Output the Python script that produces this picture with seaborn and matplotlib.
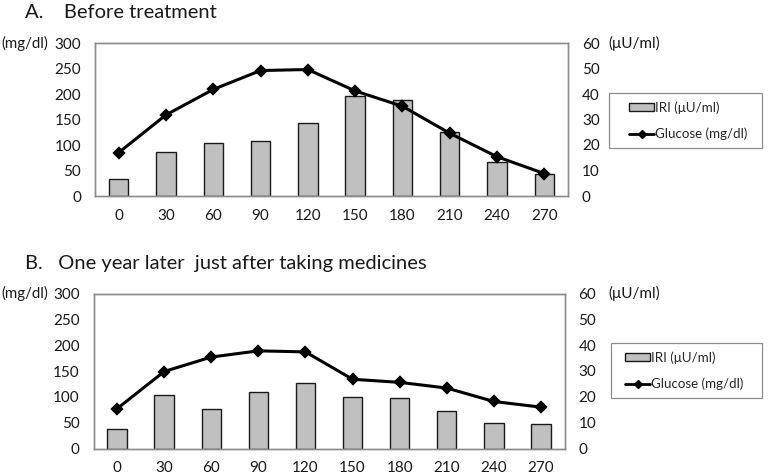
import numpy as np
import pandas as pd
import matplotlib
matplotlib.use("Agg")
import matplotlib.pyplot as plt
from matplotlib.patches import Patch, Rectangle
from matplotlib.lines import Line2D
import seaborn as sns

sns.set_style("white")
plt.rcParams['font.family'] = ['Lato', 'DejaVu Sans']

times = [0, 30, 60, 90, 120, 150, 180, 210, 240, 270]
iri_before = [6.5, 17.4, 20.7, 21.7, 28.8, 39.3, 37.6, 25.2, 13.4, 8.5]
glucose_before = [85, 159, 209, 246, 248, 206, 176, 123, 77, 44]
iri_after = [7.4, 20.9, 15.2, 21.7, 25.5, 20.0, 19.7, 14.4, 9.7, 9.3]
glucose_after = [77, 149, 177, 189, 187, 134, 128, 117, 91, 80]

titles = ["A.    Before treatment", "B.   One year later  just after taking medicines"]
left_ticks = [0, 50, 100, 150, 200, 250, 300]
right_ticks = [0, 10, 20, 30, 40, 50, 60]
iri_label = "IRI (\u03bcU/ml)"
glu_label = "Glucose (mg/dl)"

W, H = 768, 474
fig = plt.figure(figsize=(W / 100, H / 100), dpi=100)

panels = [
    dict(rect=(95, 43, 568, 196), iri=iri_before, glu=glucose_before, title=titles[0],
         title_y=13, box=(609, 93, 762, 148), leg_x=629, leg_y=120.5),
    dict(rect=(93.5, 293.5, 564.5, 448.5), iri=iri_after, glu=glucose_after, title=titles[1],
         title_y=263, box=(611, 343, 762, 398), leg_x=625, leg_y=370.8),
]

text_col = "#1a1a1a"
spine_col = "#8c8c8c"
fs = 11

for p in panels:
    x0, y0, x1, y1 = p["rect"]
    ax = fig.add_axes([x0 / W, 1 - y1 / H, (x1 - x0) / W, (y1 - y0) / H])
    df = pd.DataFrame({"time": [str(t) for t in times], "iri": p["iri"], "glu": p["glu"]})
    sns.barplot(data=df, x="time", y="iri", ax=ax, color="#c0c0c0", edgecolor="#1a1a1a",
                linewidth=1.0, width=0.41, saturation=1)
    ax.set_ylim(0, 60)
    ax.set_xlim(-0.5, len(times) - 0.5)
    ax.set_xlabel("")
    ax.set_ylabel("")

    ax2 = ax.twinx()
    sns.pointplot(data=df, x="time", y="glu", ax=ax2, color="black", markers="D",
                  markersize=5.5, linewidth=2.2)
    ax2.set_ylim(0, 300)
    ax2.set_xlim(-0.5, len(times) - 0.5)
    ax2.set_ylabel("")
    ax2.set_xlabel("")

    ax.yaxis.tick_right()
    ax.set_yticks(right_ticks)
    ax2.yaxis.tick_left()
    ax2.set_yticks(left_ticks)

    for a in (ax, ax2):
        for s in a.spines.values():
            s.set_color(spine_col)
            s.set_linewidth(1.0)
    ax.tick_params(axis="y", length=0, pad=10, labelsize=fs, labelcolor=text_col)
    ax2.tick_params(axis="y", length=0, pad=10, labelsize=fs, labelcolor=text_col)
    ax.tick_params(axis="x", length=0, pad=9, labelsize=fs, labelcolor=text_col)
    ax.set_xticks(np.arange(-0.5, len(times), 1.0), minor=True)
    ax.tick_params(axis="x", which="minor", direction="in", length=4, color="#b0b0b0", width=0.8)
    ax2.tick_params(axis="x", which="both", length=0)

    fig.text(25 / W, 1 - p["title_y"] / H, p["title"], fontsize=14.5, va="center", ha="left",
             color=text_col)
    fig.text(1 / W, 1 - y0 / H, "(mg/dl)", fontsize=10.8, va="center", ha="left", color=text_col)
    fig.text(608 / W, 1 - y0 / H, "(\u03bcU/ml)", fontsize=fs, va="center", ha="left",
             color=text_col)

    bx0, by0, bx1, by1 = p["box"]
    fig.add_artist(Rectangle((bx0 / W, 1 - by1 / H), (bx1 - bx0) / W, (by1 - by0) / H,
                             transform=fig.transFigure, facecolor="white",
                             edgecolor=spine_col, linewidth=0.9))
    handles = [Patch(facecolor="#c0c0c0", edgecolor="#1a1a1a", linewidth=1.0),
               Line2D([], [], color="black", marker="D", markersize=4, linewidth=2.0)]
    fig.legend(handles, [iri_label, glu_label],
               loc="center left", bbox_to_anchor=(p["leg_x"] / W, 1 - p["leg_y"] / H),
               fontsize=9.6, frameon=False, handlelength=1.9, handleheight=0.55,
               handletextpad=0.05, labelspacing=1.05, borderpad=0, borderaxespad=0)

fig.savefig("out.png", dpi=100)
